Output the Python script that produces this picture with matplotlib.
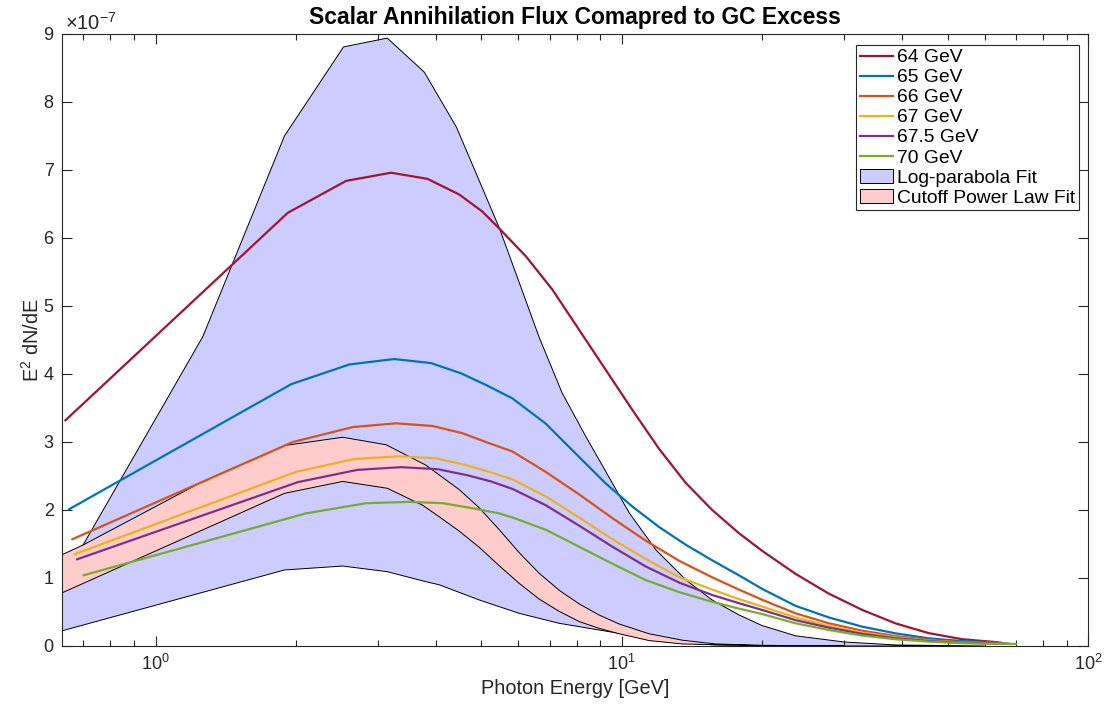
import numpy as np
import matplotlib
matplotlib.use('Agg')
import matplotlib.pyplot as plt
from matplotlib.patches import Patch
from matplotlib.lines import Line2D
from matplotlib.ticker import LogLocator, FixedLocator, NullFormatter

plt.rcParams['font.family'] = ['Liberation Sans', 'DejaVu Sans']
plt.rcParams['mathtext.fontset'] = 'custom'
plt.rcParams['mathtext.rm'] = 'Liberation Sans'
plt.rcParams['mathtext.it'] = 'Liberation Sans:italic'
plt.rcParams['mathtext.bf'] = 'Liberation Sans:bold'

# all fluxes in units of 1e-7 (shown as x10^-7 on the axis)

# log-parabola band (upper / lower edge)
lp_up_E = [0.62, 0.699, 1.263, 1.89, 2.53, 3.14, 3.77, 4.42, 5.46, 6.03, 6.65, 7.45, 8.39, 9.25,
           10.37, 11.85, 13.74, 15.6, 17.8, 20.0, 23.6, 29.9, 38.7, 60.0]
lp_up_y = [0.86, 1.485, 4.55, 7.50, 8.81, 8.94, 8.44, 7.63, 6.15, 5.34, 4.54, 3.72, 3.07, 2.56,
           1.96, 1.41, 0.97, 0.68, 0.46, 0.30, 0.15, 0.06, 0.015, 0.0]
lp_lo_E = [0.62, 1.89, 2.52, 3.14, 3.80, 4.06, 4.95, 6.03, 7.34, 8.94, 9.87, 11.4, 12.4, 15.9,
           20.0, 30.0, 60.0]
lp_lo_y = [0.21, 1.118, 1.176, 1.093, 0.946, 0.90, 0.676, 0.48, 0.334, 0.235, 0.187, 0.10, 0.063,
           0.015, 0.005, 0.0, 0.0]

# cutoff power law band
cpl_up_E = [0.62, 0.699, 1.263, 1.90, 2.52, 3.12, 3.80, 4.06, 4.48, 4.95, 5.46, 6.03, 6.65, 7.34,
            8.10, 8.94, 9.87, 11.44, 13.5, 15.9, 20.0, 30.0]
cpl_up_y = [1.32, 1.485, 2.42, 2.95, 3.07, 2.96, 2.66, 2.515, 2.30, 2.03, 1.71, 1.37, 1.07, 0.82,
            0.62, 0.456, 0.324, 0.18, 0.085, 0.03, 0.01, 0.0]
cpl_lo_E = [0.62, 1.89, 2.52, 3.14, 3.74, 4.06, 4.48, 4.95, 5.46, 6.03, 6.65, 7.34, 8.10, 8.94,
            9.87, 11.44, 13.5, 20.0, 30.0]
cpl_lo_y = [0.76, 2.245, 2.42, 2.32, 2.07, 1.90, 1.69, 1.45, 1.18, 0.92, 0.69, 0.51, 0.36,
            0.26, 0.18, 0.08, 0.03, 0.005, 0.0]

# scalar annihilation spectra
E_64 = [0.641, 1.921, 2.563, 3.20, 3.83, 4.48, 5.02, 5.46, 6.23, 7.10, 8.10, 9.24, 10.54, 12.02,
        13.71, 15.63, 17.83, 20.0, 23.6, 27.8, 32.8, 38.6, 45.5, 53.7, 64.0]
y_64 = [3.32, 6.37, 6.84, 6.96, 6.87, 6.64, 6.39, 6.14, 5.73, 5.24, 4.65, 4.06, 3.47, 2.90,
        2.40, 2.0, 1.66, 1.40, 1.06, 0.77, 0.53, 0.334, 0.19, 0.10, 0.055]

E_65 = [0.652, 1.954, 2.604, 3.25, 3.90, 4.52, 5.11, 5.83, 6.87, 8.10, 9.24, 10.54, 12.02, 13.71,
        15.63, 17.83, 20.0, 23.6, 27.8, 32.8, 38.6, 45.5, 53.7, 65.0]
y_65 = [2.01, 3.85, 4.14, 4.22, 4.16, 4.01, 3.84, 3.64, 3.27, 2.78, 2.39, 2.05, 1.75, 1.49,
        1.26, 1.04, 0.84, 0.59, 0.42, 0.284, 0.187, 0.113, 0.072, 0.05]

E_66 = [0.663, 1.97, 2.65, 3.28, 3.93, 4.55, 5.11, 5.83, 6.87, 8.10, 9.55, 11.25, 13.3, 15.63,
        17.83, 20.0, 23.6, 27.8, 32.8, 38.6, 45.5, 53.7, 66.0]
y_66 = [1.57, 3.00, 3.22, 3.275, 3.235, 3.13, 3.00, 2.86, 2.56, 2.23, 1.88, 1.55, 1.25, 1.01,
        0.83, 0.68, 0.48, 0.334, 0.225, 0.147, 0.09, 0.055, 0.037]

E_67 = [0.671, 2.00, 2.67, 3.33, 4.00, 4.63, 5.20, 5.83, 6.87, 8.10, 9.55, 11.25, 13.3, 15.63,
        17.83, 20.0, 23.6, 27.8, 32.8, 38.6, 45.5, 53.7, 67.0]
y_67 = [1.35, 2.56, 2.75, 2.79, 2.76, 2.66, 2.56, 2.45, 2.20, 1.89, 1.57, 1.28, 1.01, 0.83,
        0.69, 0.58, 0.42, 0.294, 0.196, 0.128, 0.08, 0.05, 0.035]

E_675 = [0.679, 2.02, 2.71, 3.36, 4.03, 4.67, 5.24, 5.83, 6.87, 8.10, 9.55, 11.25, 13.3, 15.63,
         17.83, 20.0, 23.6, 27.8, 32.8, 38.6, 45.5, 53.7, 67.5]
y_675 = [1.275, 2.41, 2.59, 2.63, 2.60, 2.51, 2.42, 2.31, 2.07, 1.77, 1.46, 1.17, 0.93, 0.75,
         0.63, 0.53, 0.38, 0.27, 0.178, 0.115, 0.074, 0.046, 0.034]

E_70 = [0.701, 2.10, 2.83, 3.50, 4.13, 4.79, 5.46, 5.83, 6.87, 8.10, 9.55, 11.25, 13.3, 15.63,
        17.83, 20.0, 23.6, 27.8, 32.8, 38.6, 45.5, 53.7, 70.0]
y_70 = [1.04, 1.95, 2.10, 2.12, 2.10, 2.025, 1.95, 1.89, 1.71, 1.46, 1.21, 0.97, 0.79, 0.65,
        0.55, 0.47, 0.334, 0.235, 0.153, 0.10, 0.064, 0.041, 0.03]

curves = [(E_64, y_64, '64 GeV', '#A2142F'),
          (E_65, y_65, '65 GeV', '#0072BD'),
          (E_66, y_66, '66 GeV', '#D95319'),
          (E_67, y_67, '67 GeV', '#EDB120'),
          (E_675, y_675, '67.5 GeV', '#7E2F8E'),
          (E_70, y_70, '70 GeV', '#77AC30')]

axc = '#262626'

fig = plt.figure(figsize=(11.14, 7.13), dpi=100)
ax = fig.add_axes([62 / 1114, 1 - 646 / 713, 1026 / 1114, 612 / 713])

ax.fill(lp_up_E + lp_lo_E[::-1], lp_up_y + lp_lo_y[::-1],
        facecolor='#CCCCFF', edgecolor='k', linewidth=0.7, zorder=1)
ax.fill(cpl_up_E + cpl_lo_E[::-1], cpl_up_y + cpl_lo_y[::-1],
        facecolor='#FFCCCC', edgecolor='k', linewidth=0.7, zorder=2)

for E, y, lab, col in curves:
    ax.plot(E, y, color=col, linewidth=1.6, zorder=3)

ax.set_xscale('log')
ax.set_xlim(0.63, 100)
ax.set_ylim(0, 9)
ax.yaxis.set_major_locator(FixedLocator(range(10)))
ax.xaxis.set_minor_locator(LogLocator(base=10, subs=np.arange(2, 10)))
ax.xaxis.set_minor_formatter(NullFormatter())

ax.tick_params(which='both', direction='in', top=True, right=True, colors=axc,
               labelsize=13, pad=6)
ax.tick_params(which='major', length=7, width=0.8)
ax.tick_params(which='minor', length=4, width=0.8)
for s in ax.spines.values():
    s.set_color(axc)
    s.set_linewidth(0.8)

ax.text(0.003, 1.0065, r'$\times$10$^{\mathregular{-7}}$', transform=ax.transAxes,
        fontsize=14.5, color=axc, va='baseline', ha='left')

ax.set_xlabel('Photon Energy [GeV]', fontsize=14.3, color=axc, labelpad=3)
ax.set_ylabel(r'E$^{\mathregular{2}}$ dN/dE', fontsize=14.3, color=axc, labelpad=0.5)
ax.set_title('Scalar Annihilation Flux Comapred to GC Excess', fontsize=16.5,
             fontweight='bold', pad=7)

handles = [Line2D([], [], color=c, linewidth=1.6) for _, _, _, c in curves]
handles += [Patch(facecolor='#CCCCFF', edgecolor='k', linewidth=0.7),
            Patch(facecolor='#FFCCCC', edgecolor='k', linewidth=0.7)]
labels = [lab for _, _, lab, _ in curves] + ['Log-parabola Fit', 'Cutoff Power Law Fit']
leg = ax.legend(handles, labels, loc='upper right', bbox_to_anchor=(0.9912, 0.982),
                borderaxespad=0, fontsize=13.9, labelspacing=0.13, handlelength=1.7,
                handletextpad=0.2, borderpad=0.2, fancybox=False, framealpha=1,
                edgecolor=axc)
leg.get_frame().set_linewidth(0.8)

fig.savefig('out.png', dpi=100)
